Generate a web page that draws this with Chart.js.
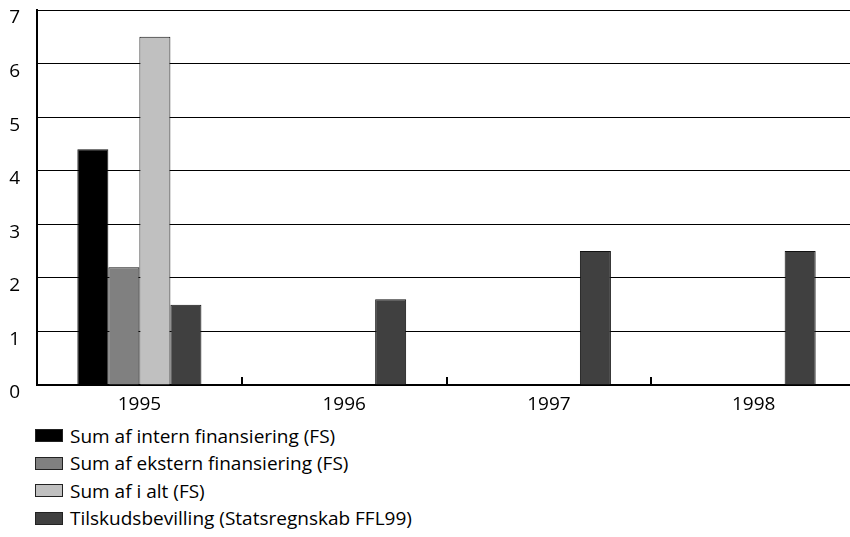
<!DOCTYPE html>
<html><head><meta charset="utf-8">
<script src="https://cdn.jsdelivr.net/npm/chart.js@4/dist/chart.umd.min.js"></script>
<style>
html,body{margin:0;padding:0;background:#fff;overflow:hidden;width:850px;height:537px}
#wrap{position:relative;width:856px;height:420px}
#legend{position:absolute;left:35px;top:422px;font-family:"Open Sans","Noto Sans",sans-serif;font-size:19px;color:#000}
.li{height:27.5px;display:flex;align-items:center}
.sw{width:26px;height:11px;border:1px solid #222;margin-right:7px;box-sizing:content-box}
</style></head>
<body>
<div id="wrap"><canvas id="c" width="856" height="420"></canvas></div>
<div id="legend"></div>
<script>
const categories = ["1995","1996","1997","1998"];
const seriesNames = ["Sum af intern finansiering (FS)","Sum af ekstern finansiering (FS)","Sum af i alt (FS)","Tilskudsbevilling (Statsregnskab FFL99)"];
const internFin = [4.4, null, null, null];
const eksternFin = [2.2, null, null, null];
const iAlt = [6.5, null, null, null];
const tilskud = [1.5, 1.6, 2.5, 2.5];
const yTicks = [0,1,2,3,4,5,6,7];
const colors = ["#000000","#808080","#c0c0c0","#404040"];
const seriesData = [internFin, eksternFin, iAlt, tilskud];

const FONT = {family:'"Open Sans","Noto Sans",sans-serif', size:19};

const boundaryTicks = {
  id:'boundaryTicks',
  afterDatasetsDraw(chart){
    const x = chart.scales.x, ctx = chart.ctx, b = chart.chartArea.bottom;
    ctx.save(); ctx.strokeStyle='#000'; ctx.lineWidth=2;
    for(let i=0;i<categories.length-1;i++){
      const px = Math.round((x.getPixelForValue(i)+x.getPixelForValue(i+1))/2);
      ctx.beginPath(); ctx.moveTo(px,b); ctx.lineTo(px,b-8); ctx.stroke();
    }
    ctx.restore();
  }
};

const chart = new Chart(document.getElementById('c'), {
  type:'bar',
  data:{
    labels:categories,
    datasets: seriesNames.map((n,i)=>({
      label:n, data:seriesData[i], backgroundColor:colors[i],
      borderColor:'#111', borderWidth:1, categoryPercentage:0.606, barPercentage:1
    }))
  },
  options:{
    responsive:false, animation:false,
    layout:{padding:{top:10,right:0,left:0,bottom:0}},
    plugins:{legend:{display:false}, tooltip:{enabled:false}},
    scales:{
      x:{
        grid:{display:false, drawTicks:false},
        border:{display:true, color:'#000', width:2},
        ticks:{font:FONT, color:'#000', padding:8},
        afterFit(s){ s.height = 35; s.paddingLeft=0; s.paddingRight=0; }
      },
      y:{
        min:0, max:7,
        afterBuildTicks(s){ s.ticks = yTicks.map(v=>({value:v})); },
        grid:{color:'#000', lineWidth:1, drawTicks:false},
        border:{display:true, color:'#000', width:2},
        ticks:{font:FONT, color:'#000', padding:17, labelOffset:8, align:'center'},
        afterFit(s){ s.width = 37; s.paddingTop = 0; s.paddingBottom = 0; }
      }
    }
  },
  plugins:[boundaryTicks]
});

const lg = document.getElementById('legend');
chart.data.datasets.forEach(ds=>{
  const d=document.createElement('div'); d.className='li';
  const s=document.createElement('span'); s.className='sw'; s.style.background=ds.backgroundColor;
  const t=document.createElement('span'); t.textContent=ds.label;
  d.appendChild(s); d.appendChild(t); lg.appendChild(d);
});
</script>
</body></html>
